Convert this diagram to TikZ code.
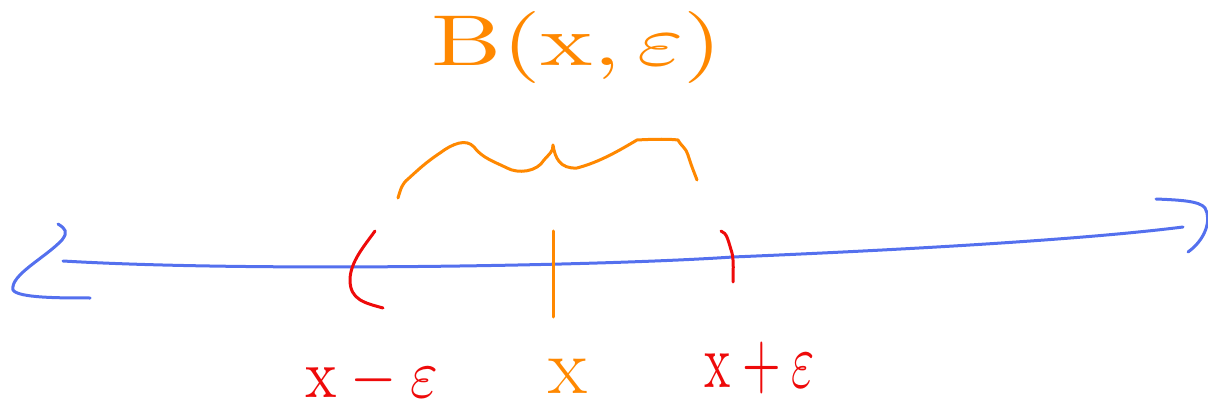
\documentclass[tikz,border=0pt]{standalone}
\usepackage{graphicx}
\definecolor{penblue}{RGB}{84,112,238}
\definecolor{penorange}{RGB}{255,136,0}
\definecolor{penred}{RGB}{238,10,10}
\tikzset{
  pen/.style={line width=3pt, line cap=round, line join=round},
  lbl/.style={inner sep=0pt, outer sep=0pt}
}
\begin{document}
\begin{tikzpicture}[x=1pt,y=-1pt]
\useasboundingbox (0,0) rectangle (1208,414);
% number line
\coordinate (L) at (63,261);
\coordinate (R) at (1183,227);
\draw[pen,penblue] (L) .. controls (250,272) and (600,266) .. (733,257)
  .. controls (900,250) and (1080,240) .. (R);
% arrowheads
\draw[pen,penblue] (58,224) .. controls (66,229) and (68,232) .. (62,240)
  .. controls (45,258) and (10,275) .. (13,290)
  .. controls (18,298) and (60,298) .. (90,298);
\draw[pen,penblue] (1156,199) .. controls (1180,200) and (1200,201) .. (1205,208)
  .. controls (1212,220) and (1205,240) .. (1188,252);
% interval marks
\draw[pen,penred] (375,231) .. controls (365,245) and (350,262) .. (350,280)
  .. controls (350,300) and (365,303) .. (383,308);
\draw[pen,penorange] (553,231) -- (553,317);
\draw[pen,penred] (721,231) .. controls (727,233) and (728,240) .. (732,253)
  .. controls (734,262) and (733,272) .. (733,282);
% brace
\draw[pen,penorange] (398,198) .. controls (401,188) and (402,184) .. (408,179)
  .. controls (418,170) and (425,163) .. (440,153)
  .. controls (452,144) and (466,138) .. (474,147)
  .. controls (482,158) and (495,162) .. (507,168)
  .. controls (518,174) and (537,172) .. (544,160)
  .. controls (550,153) and (553,152) .. (553,145)
  .. controls (555,158) and (560,169) .. (577,168)
  .. controls (600,162) and (620,150) .. (637,140)
  .. controls (655,139) and (670,139) .. (678,140)
  .. controls (682,147) and (686,148) .. (688,155)
  .. controls (691,165) and (694,172) .. (697,180);
% labels
\node[lbl, text=penorange] (B) at (577,48)
  {\resizebox*{290pt}{72pt}{$\mathrm{B}(\mathrm{x},\varepsilon)$}};
\node[lbl, text=penred] (xm) at (372,380)
  {\resizebox*{132pt}{46pt}{$\mathrm{x}-\varepsilon$}};
\node[lbl, text=penorange, font=\fontsize{80}{80}\selectfont] (x) at (568,376)
  {x};
\node[lbl, text=penred] (xp) at (760,368)
  {\resizebox*{110pt}{52pt}{$\mathrm{x}+\varepsilon$}};
\end{tikzpicture}
\end{document}
